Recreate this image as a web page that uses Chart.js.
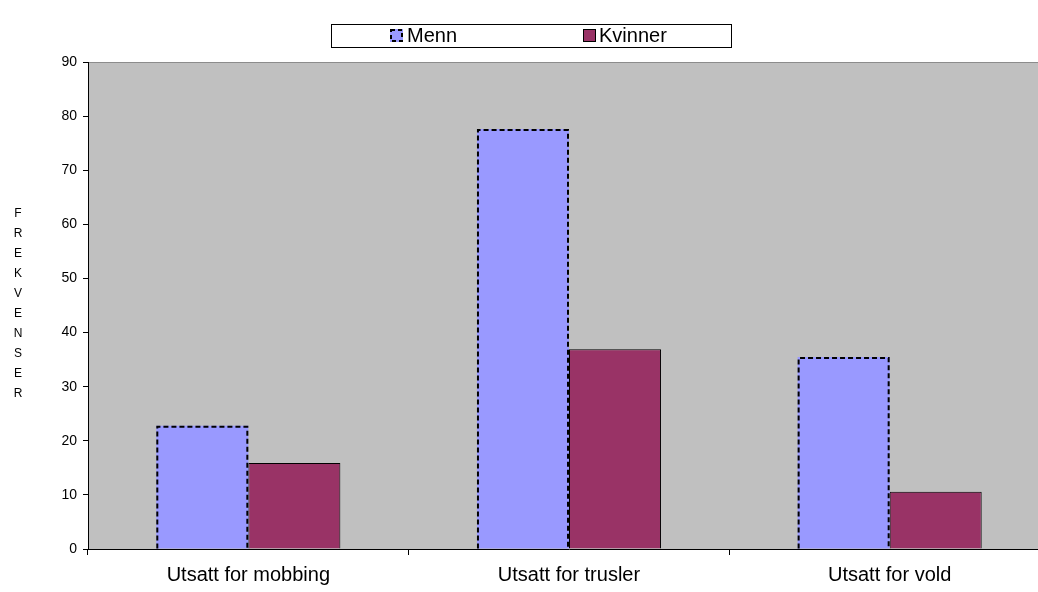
<!DOCTYPE html>
<html>
<head>
<meta charset="utf-8">
<style>
  html, body { margin: 0; padding: 0; background: #ffffff; overflow: hidden; }
  #wrap { position: relative; width: 1062px; height: 592px; }
</style>
<script src="https://cdn.jsdelivr.net/npm/chart.js@4/dist/chart.umd.min.js"></script>
</head>
<body>
<div id="wrap"><canvas id="chart" width="1062" height="592"></canvas></div>
<script>
// Categories and series values
const categories = ['Utsatt for mobbing', 'Utsatt for trusler', 'Utsatt for vold'];
const seriesNames = ['Menn', 'Kvinner'];
const menn = [22.8, 77.6, 35.5];
const kvinner = [15.9, 36.9, 10.6];
const yTickValues = [0, 10, 20, 30, 40, 50, 60, 70, 80, 90];
const yAxisTitle = 'FREKVENSER';

const FONT = '"Liberation Sans", Arial, Helvetica, sans-serif';
const MENN_FILL = '#9999FF';
const KVINNER_FILL = '#993366';

// Grey plot background with a darker top edge
const plotBackground = {
  id: 'plotBackground',
  beforeDraw(chart) {
    const { ctx, chartArea: a } = chart;
    ctx.save();
    ctx.fillStyle = '#C0C0C0';
    ctx.fillRect(a.left, a.top, a.right - a.left, a.bottom - a.top);
    ctx.strokeStyle = '#8c8c8c';
    ctx.lineWidth = 1;
    ctx.beginPath();
    ctx.moveTo(a.left, a.top + 0.5);
    ctx.lineTo(a.right, a.top + 0.5);
    ctx.stroke();
    ctx.restore();
  }
};

// Dashed outline for the first series' bars
const dashedOutline = {
  id: 'dashedOutline',
  afterDatasetsDraw(chart) {
    const { ctx } = chart;
    const meta = chart.getDatasetMeta(0);
    ctx.save();
    ctx.strokeStyle = '#000000';
    ctx.lineWidth = 2;
    ctx.setLineDash([5, 3]);
    meta.data.forEach(bar => {
      const p = bar.getProps(['x', 'y', 'base', 'width'], true);
      const l = p.x - p.width / 2 + 1;
      const r = p.x + p.width / 2 - 1;
      const t = p.y + 1;
      ctx.beginPath();
      ctx.moveTo(l, p.base);
      ctx.lineTo(l, t);
      ctx.lineTo(r, t);
      ctx.lineTo(r, p.base);
      ctx.stroke();
    });
    ctx.restore();
  }
};

// Boxed legend across the top and the stacked vertical axis title
const boxLegendAndTitle = {
  id: 'boxLegendAndTitle',
  afterDraw(chart) {
    const { ctx } = chart;
    ctx.save();
    // legend frame
    ctx.fillStyle = '#ffffff';
    ctx.fillRect(331, 24, 400, 23);
    ctx.strokeStyle = '#000000';
    ctx.lineWidth = 1;
    ctx.strokeRect(331.5, 24.5, 400, 23);

    const items = [
      { x: 390, textX: 407 },
      { x: 583, textX: 599 }
    ];
    ctx.font = '20px ' + FONT;
    ctx.textBaseline = 'middle';
    ctx.textAlign = 'left';
    chart.data.datasets.forEach((ds, i) => {
      const it = items[i];
      ctx.fillStyle = ds.backgroundColor;
      ctx.fillRect(it.x, 29, 13, 13);
      ctx.strokeStyle = '#000000';
      if (i === 0) {
        ctx.lineWidth = 2;
        ctx.setLineDash([4, 3]);
        ctx.strokeRect(it.x + 1, 30, 11, 11);
        ctx.setLineDash([]);
      } else {
        ctx.lineWidth = 1;
        ctx.strokeRect(it.x + 0.5, 29.5, 12, 12);
      }
      ctx.fillStyle = '#000000';
      ctx.fillText(ds.label, it.textX, 36);
    });

    // vertical letters of the y axis title
    ctx.font = '12px ' + FONT;
    ctx.textAlign = 'center';
    ctx.textBaseline = 'middle';
    const letters = yAxisTitle.split('');
    const step = 20;
    const y0 = 214;
    letters.forEach((ch, i) => ctx.fillText(ch, 18, y0 + i * step));
    ctx.restore();
  }
};

new Chart(document.getElementById('chart'), {
  type: 'bar',
  data: {
    labels: categories,
    datasets: [
      {
        label: seriesNames[0],
        data: menn,
        backgroundColor: MENN_FILL,
        borderWidth: 0
      },
      {
        label: seriesNames[1],
        data: kvinner,
        backgroundColor: KVINNER_FILL,
        borderColor: '#000000',
        borderWidth: 1
      }
    ]
  },
  options: {
    responsive: false,
    animation: false,
    devicePixelRatio: 1,
    categoryPercentage: 0.574,
    barPercentage: 1.0,
    layout: { padding: { top: 62, right: 12, left: 0, bottom: 0 } },
    plugins: {
      legend: { display: false },
      tooltip: { enabled: false }
    },
    scales: {
      x: {
        grid: { offset: true, drawOnChartArea: false, drawTicks: true, tickLength: 6, color: '#000000' },
        border: { display: true, color: '#000000', width: 1 },
        ticks: { color: '#000000', font: { family: FONT, size: 20 }, padding: 8 },
        afterFit(s) { s.height = 43; }
      },
      y: {
        min: 0,
        max: 90,
        afterBuildTicks(s) { s.ticks = yTickValues.map(v => ({ value: v })); },
        grid: { drawOnChartArea: false, drawTicks: true, tickLength: 5, color: '#000000' },
        border: { display: true, color: '#000000', width: 1 },
        ticks: { color: '#000000', font: { family: FONT, size: 14 }, padding: 6 },
        afterFit(s) { s.width = 88; }
      }
    }
  },
  plugins: [plotBackground, dashedOutline, boxLegendAndTitle]
});
</script>
</body>
</html>
